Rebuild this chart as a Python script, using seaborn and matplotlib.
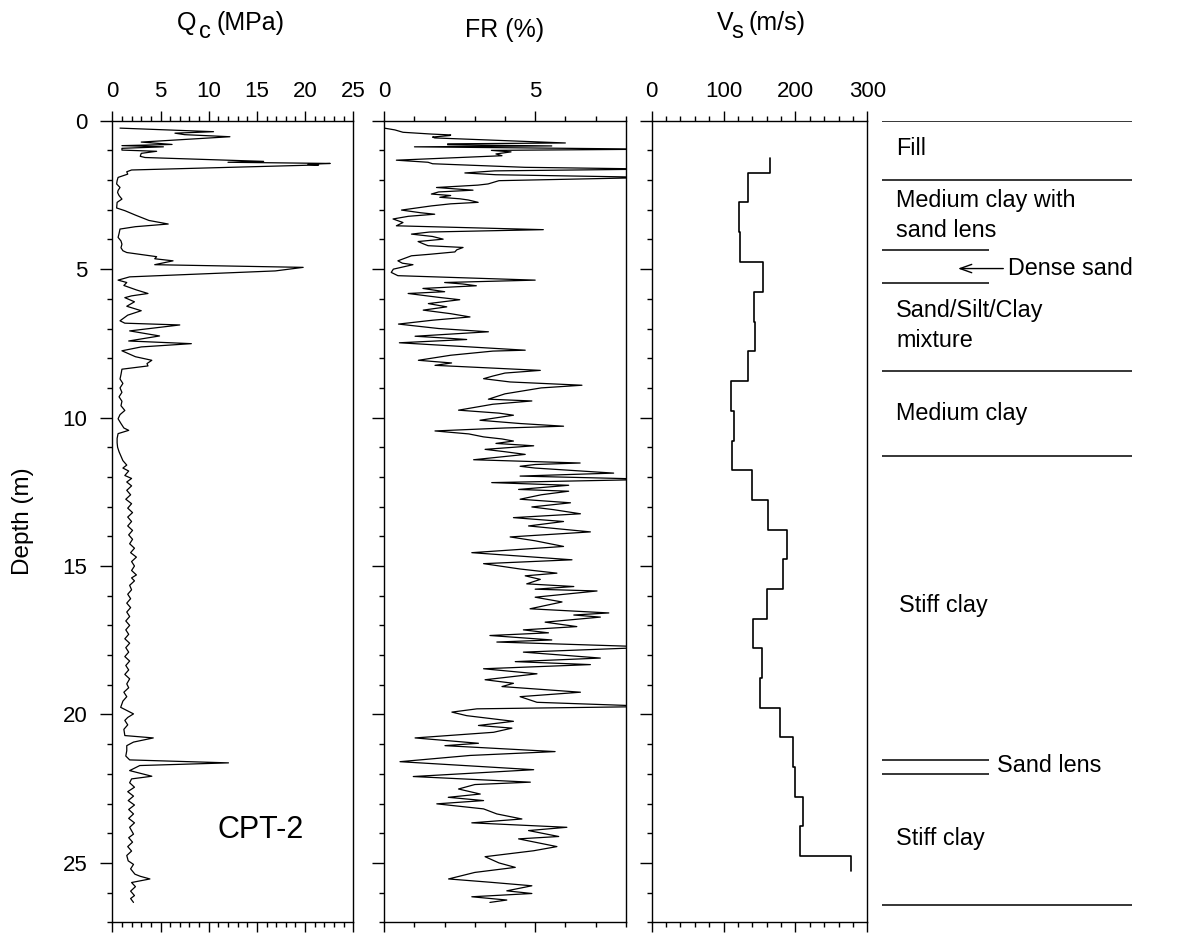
import numpy as np
import pandas as pd
import matplotlib
matplotlib.use("Agg")
import matplotlib.pyplot as plt
import seaborn as sns
from matplotlib.ticker import MultipleLocator, FixedLocator

# ---------------- data ----------------
qc_depth = [0.25, 0.33, 0.37, 0.42, 0.47, 0.54, 0.72, 0.80, 0.84, 0.88, 0.93, 0.99, 1.03, 1.10,
            1.20, 1.24, 1.33, 1.37, 1.40, 1.44, 1.47, 1.49, 1.66, 1.72, 1.80, 1.91, 2.02, 2.13,
            2.25, 2.35, 2.42, 2.52, 2.64, 2.75, 2.94, 3.03, 3.18, 3.31, 3.36, 3.48, 3.57, 3.65,
            3.80, 3.93, 4.05, 4.16, 4.28, 4.38, 4.44, 4.58, 4.65, 4.72, 4.85, 4.94, 5.06, 5.26,
            5.37, 5.45, 5.55, 5.70, 5.82, 5.90, 5.96, 6.10, 6.25, 6.40, 6.55, 6.74, 6.82, 6.88,
            7.08, 7.25, 7.42, 7.51, 7.62, 7.75, 7.95, 8.07, 8.18, 8.26, 8.37, 8.55, 8.70, 8.85,
            9.00, 9.15, 9.30, 9.45, 9.60, 9.76, 9.90, 10.04, 10.20, 10.35, 10.43, 10.54, 10.70,
            10.85, 11.00, 11.15, 11.30, 11.45, 11.60, 11.70, 11.80, 11.95, 12.05, 12.17, 12.30,
            12.45, 12.60, 12.75, 12.90, 13.05, 13.20, 13.35, 13.50, 13.65, 13.80, 13.95, 14.10,
            14.25, 14.40, 14.55, 14.70, 14.85, 15.00, 15.15, 15.30, 15.40, 15.50, 15.65, 15.80,
            15.95, 16.10, 16.25, 16.40, 16.55, 16.70, 16.85, 17.00, 17.15, 17.30, 17.45, 17.60,
            17.75, 17.90, 18.05, 18.20, 18.35, 18.50, 18.65, 18.80, 18.97, 19.10, 19.25, 19.40,
            19.55, 19.76, 19.98, 20.10, 20.20, 20.35, 20.50, 20.71, 20.79, 20.93, 21.05, 21.22,
            21.40, 21.53, 21.63, 21.72, 21.89, 22.08, 22.17, 22.30, 22.45, 22.60, 22.75, 22.90,
            23.05, 23.20, 23.35, 23.50, 23.65, 23.80, 24.03, 24.15, 24.30, 24.45, 24.60, 24.75,
            24.93, 25.05, 25.20, 25.38, 25.45, 25.54, 25.66, 25.80, 25.95, 26.10, 26.20, 26.33]
qc_values = [0.8, 7.4, 10.5, 6.5, 7.5, 12.2, 3.0, 6.2, 1.0, 5.3, 1.0, 1.0, 4.6, 3.0,
             2.9, 3.4, 11.7, 15.7, 12.0, 22.6, 20.3, 21.4, 2.0, 1.5, 1.6, 0.6, 0.5, 0.45,
             0.8, 0.6, 0.55, 0.7, 1.0, 0.5, 0.45, 1.3, 2.4, 3.4, 3.8, 5.8, 2.4, 0.8,
             0.7, 0.6, 0.9, 1.0, 0.9, 1.1, 1.5, 4.6, 4.4, 6.3, 4.4, 19.8, 16.9, 1.8,
             0.6, 1.5, 1.2, 2.5, 3.7, 2.0, 1.3, 2.3, 1.5, 3.0, 1.6, 0.8, 1.3, 7.0,
             1.8, 4.9, 1.7, 8.2, 3.0, 1.0, 2.4, 4.1, 3.6, 3.7, 1.0, 0.9, 0.8, 1.1,
             0.8, 1.0, 0.7, 1.0, 0.9, 1.3, 0.8, 0.6, 0.9, 1.2, 1.7, 0.6, 0.5,
             0.5, 0.55, 0.7, 0.9, 1.1, 1.5, 1.1, 1.7, 1.3, 2.0, 1.5, 2.0,
             1.5, 1.9, 1.4, 2.0, 1.6, 2.1, 1.6, 2.0, 1.6, 2.1, 1.7, 2.1,
             1.8, 2.3, 1.9, 2.5, 2.0, 2.3, 2.0, 2.5, 2.0, 2.3, 1.8, 2.0,
             1.6, 1.9, 1.5, 1.9, 1.5, 1.8, 1.4, 1.8, 1.4, 1.7, 1.3, 1.8,
             1.4, 1.7, 1.3, 1.8, 1.4, 1.7, 1.3, 1.8, 1.5, 1.7, 1.2, 1.5,
             1.1, 0.87, 2.2, 1.6, 1.3, 1.6, 1.2, 1.3, 4.25, 2.2, 1.5, 1.5,
             1.4, 1.8, 12.05, 2.85, 1.8, 4.1, 2.0, 1.8, 2.3, 1.6, 2.2, 1.65,
             2.3, 1.7, 2.2, 1.7, 2.3, 1.8, 2.2, 1.7, 2.1, 1.6, 2.0, 1.5,
             1.65, 2.2, 1.9, 2.35, 2.9, 3.9, 2.0, 2.4, 1.9, 2.3, 1.9, 2.2]

fr_depth = [0.25, 0.31, 0.39, 0.45, 0.48, 0.50, 0.55, 0.58, 0.75, 0.78, 0.81, 0.85, 0.88, 0.96,
            1.00, 1.05, 1.12, 1.18, 1.33, 1.40, 1.45, 1.57, 1.63, 1.69, 1.76, 1.82, 1.91, 2.02,
            2.08, 2.13, 2.17, 2.25, 2.30, 2.34, 2.40, 2.47, 2.52, 2.58, 2.63, 2.67, 2.75, 2.80,
            2.87, 3.01, 3.10, 3.15, 3.22, 3.31, 3.43, 3.54, 3.67, 3.75, 3.82, 3.90, 3.99, 4.07,
            4.15, 4.21, 4.27, 4.35, 4.42, 4.50, 4.55, 4.72, 4.80, 4.85, 5.00, 5.11, 5.22, 5.37,
            5.45, 5.50, 5.56, 5.65, 5.76, 5.82, 5.95, 6.03, 6.16, 6.27, 6.38, 6.50, 6.61, 6.72,
            6.85, 7.00, 7.11, 7.26, 7.32, 7.37, 7.48, 7.60, 7.73, 7.76, 7.90, 8.07, 8.16, 8.24,
            8.41, 8.50, 8.60, 8.69, 8.80, 8.91, 9.00, 9.10, 9.20, 9.38, 9.44, 9.55, 9.75, 9.85,
            9.92, 10.09, 10.20, 10.29, 10.35, 10.45, 10.55, 10.65, 10.72, 10.79, 10.87, 10.95,
            11.07, 11.15, 11.24, 11.42, 11.53, 11.58, 11.64, 11.70, 11.87, 11.97, 12.08, 12.19,
            12.28, 12.42, 12.48, 12.60, 12.75, 12.87, 13.01, 13.10, 13.24, 13.37, 13.50, 13.65,
            13.75, 13.85, 14.02, 14.15, 14.34, 14.55, 14.79, 14.92, 15.10, 15.24, 15.33, 15.45,
            15.60, 15.69, 15.78, 15.84, 16.05, 16.21, 16.44, 16.58, 16.65, 16.72, 16.89, 17.04,
            17.15, 17.25, 17.34, 17.49, 17.56, 17.73, 17.90, 18.10, 18.22, 18.32, 18.46, 18.63,
            18.83, 18.95, 19.06, 19.25, 19.40, 19.59, 19.73, 19.81, 19.92, 20.04, 20.23, 20.37,
            20.46, 20.60, 20.79, 20.97, 21.05, 21.25, 21.38, 21.59, 21.86, 22.09, 22.28, 22.36,
            22.51, 22.68, 22.79, 22.90, 23.01, 23.18, 23.35, 23.52, 23.65, 23.80, 23.91, 24.11,
            24.19, 24.45, 24.59, 24.79, 25.00, 25.15, 25.32, 25.54, 25.65, 25.77, 25.94, 26.03,
            26.14, 26.25, 26.33]
fr_values = [0.0, 0.35, 0.62, 1.56, 2.2, 2.17, 1.6, 1.67, 6.0, 2.1, 2.1, 5.55, 1.0, 9.0,
             3.55, 4.2, 3.7, 3.9, 0.4, 1.45, 1.6, 4.66, 9.0, 3.66, 2.67, 3.7, 9.0, 3.8,
             3.6, 3.44, 3.1, 1.73, 2.4, 2.94, 1.8, 1.56, 2.2, 1.84, 2.5, 2.78, 3.11, 2.2,
             1.56, 0.57, 1.2, 1.67, 0.8, 0.29, 0.62, 0.4, 5.27, 1.5, 0.9, 1.6, 1.95, 1.12,
             1.3, 1.45, 2.61, 2.4, 2.34, 1.5, 0.9, 0.45, 0.6, 0.95, 0.3, 0.23, 0.45, 5.0,
             2.0, 2.6, 3.05, 1.28, 2.0, 0.79, 1.8, 2.5, 1.46, 2.07, 1.29, 2.2, 2.84, 1.6,
             0.47, 1.8, 3.45, 1.02, 2.0, 2.73, 0.5, 2.5, 4.67, 3.6, 2.2, 1.13, 2.23, 1.68,
             5.17, 4.0, 3.6, 3.29, 4.17, 6.55, 5.2, 4.61, 4.0, 3.45, 4.89, 3.6, 2.46, 3.8,
             4.28, 3.17, 4.5, 5.94, 4.0, 1.68, 2.8, 3.29, 3.9, 4.28, 3.7, 4.95,
             3.34, 4.0, 4.67, 2.96, 6.49, 5.0, 4.5, 5.0, 7.6, 4.5, 9.0, 3.56,
             6.11, 4.45, 6.11, 5.2, 4.5, 6.17, 4.89, 5.6, 6.5, 4.28, 5.94, 4.78,
             5.8, 6.83, 4.17, 5.0, 5.94, 2.9, 6.22, 3.29, 4.5, 5.72, 4.67, 5.17,
             4.72, 6.28, 5.0, 7.05, 5.0, 5.89, 4.83, 7.44, 6.28, 7.16, 5.33, 6.38,
             4.61, 5.44, 3.5, 5.55, 3.73, 9.0, 4.61, 7.16, 4.34, 6.83, 3.29, 5.06,
             3.34, 4.28, 3.9, 6.5, 4.5, 5.06, 9.0, 3.07, 2.24, 2.73, 4.28, 3.12,
             4.23, 3.62, 1.02, 3.12, 2.01, 5.66, 2.84, 0.52, 4.95, 0.96, 4.84, 3.0,
             2.46, 3.18, 2.12, 3.29, 1.74, 3.29, 3.73, 4.56, 2.9, 6.05, 4.78, 5.78,
             4.45, 5.72, 4.95, 3.34, 3.8, 4.34, 3.0, 2.13, 3.5, 4.89, 4.06, 4.89,
             2.9, 4.06, 3.5]

vs_bounds = [1.27, 1.75, 2.75, 3.75, 4.77, 5.77, 6.77, 7.77, 8.77, 9.77, 10.78, 11.78, 12.77,
             13.77, 14.76, 15.77, 16.77, 17.77, 18.77, 19.77, 20.77, 21.77, 22.77, 23.77,
             24.78, 25.27]
vs_values = [165, 134, 121, 123, 155, 143, 144, 134, 110, 115, 112, 139, 162, 188, 183, 160,
             141, 154, 151, 178, 196, 199, 210, 206, 278]

layer_full = [0.0, 2.0, 8.42, 11.3, 26.42]
layer_short = [4.35, 5.46, 21.53, 22.0]
layer_names = ["Fill", "Medium clay with\nsand lens", "Dense sand", "Sand/Silt/Clay\nmixture",
               "Medium clay", "Stiff clay", "Sand lens", "Stiff clay"]
layer_label_depth = [0.92, 3.2, 4.98, 6.9, 9.87, 16.33, 21.72, 24.17]

qc_ticks = [0, 5, 10, 15, 20, 25]
fr_ticks = [0, 5]
vs_ticks = [0, 100, 200, 300]
depth_ticks = [0, 5, 10, 15, 20, 25]

# ---------------- style ----------------
sns.set_theme(style="ticks", rc={
    "axes.edgecolor": "black", "xtick.color": "black", "ytick.color": "black",
    "text.color": "black", "axes.labelcolor": "black", "axes.linewidth": 1.0,
})
plt.rcParams["font.family"] = ["Liberation Sans", "DejaVu Sans"]

W, H = 1204, 934
fig = plt.figure(figsize=(W / 100, H / 100), dpi=100)


def px_axes(left, top, right, bottom):
    return fig.add_axes([left / W, 1 - bottom / H, (right - left) / W, (bottom - top) / H])


def ftext(x, y, s, **kw):
    return fig.text(x / W, 1 - y / H, s, **kw)


TOP, BOT = 120.7, 922.3
ax1 = px_axes(112.3, TOP, 353.3, BOT)
ax2 = px_axes(384.3, TOP, 625.7, BOT)
ax3 = px_axes(651.7, TOP, 867.3, BOT)
axa = px_axes(867.3, TOP, 1204, BOT)

TICK_FS = 16

df_qc = pd.DataFrame({"depth": qc_depth, "qc": qc_values})
df_fr = pd.DataFrame({"depth": fr_depth, "fr": fr_values})
vs_x = np.repeat(vs_values, 2)
vs_y = np.column_stack([vs_bounds[:-1], vs_bounds[1:]]).ravel()
df_vs = pd.DataFrame({"depth": vs_y, "vs": vs_x})

sns.lineplot(data=df_qc, x="qc", y="depth", sort=False, estimator=None, orient="y",
             color="black", linewidth=0.9, ax=ax1)
sns.lineplot(data=df_fr, x="fr", y="depth", sort=False, estimator=None, orient="y",
             color="black", linewidth=0.9, ax=ax2)
sns.lineplot(data=df_vs, x="vs", y="depth", sort=False, estimator=None, orient="y",
             color="black", linewidth=1.2, ax=ax3)

setups = [
    (ax1, (0, 25), qc_ticks, 1),
    (ax2, (0, 8), fr_ticks, 1),
    (ax3, (0, 300), vs_ticks, 20),
]
for i, (ax, xlim, majors, minor_step) in enumerate(setups):
    ax.set_xlim(*xlim)
    ax.set_ylim(27, 0)
    ax.xaxis.set_major_locator(FixedLocator(majors))
    ax.xaxis.set_minor_locator(MultipleLocator(minor_step))
    ax.yaxis.set_major_locator(FixedLocator(depth_ticks))
    ax.yaxis.set_minor_locator(MultipleLocator(1))
    ax.xaxis.set_ticks_position("both")
    ax.tick_params(axis="x", which="both", direction="out", top=True, bottom=True,
                   labeltop=True, labelbottom=False, labelsize=TICK_FS, width=1.0)
    ax.tick_params(axis="x", which="major", length=7, pad=6.5)
    ax.tick_params(axis="x", which="minor", length=3.6)
    ax.tick_params(axis="y", which="both", direction="out", left=True, right=False,
                   labelleft=(i == 0), labelsize=TICK_FS, width=1.0)
    ax.tick_params(axis="y", which="major", length=9, pad=9)
    ax.tick_params(axis="y", which="minor", length=3.6)
    ax.set_xlabel("")
    ax.set_ylabel("")
    for s in ax.spines.values():
        s.set_visible(True)
        s.set_color("black")
        s.set_linewidth(1.0)

ax1.set_ylabel("Depth (m)", fontsize=17.5)
ax1.yaxis.label.set_va("center")
ax1.yaxis.set_label_coords((23 - 112.3) / 241.0, 0.5)
ax1.text(15.4, 23.9, "CPT-2", fontsize=22, ha="center", va="center")

# panel titles (large, dropped subscripts as in the original)
TFS = 18
ftext(177, 30, "Q", fontsize=TFS, ha="left", va="baseline")
ftext(199, 38, "c", fontsize=TFS * 0.95, ha="left", va="baseline")
ftext(216, 30, "(MPa)", fontsize=TFS, ha="left", va="baseline")
ftext(505, 37, "FR (%)", fontsize=TFS, ha="center", va="baseline")
ftext(716.5, 30, "V", fontsize=TFS, ha="left", va="baseline")
ftext(731, 38, "s", fontsize=TFS * 0.95, ha="left", va="baseline")
ftext(748, 30, "(m/s)", fontsize=TFS, ha="left", va="baseline")

# layer annotation column
axa.set_xlim(0, W - 867.3)
axa.set_ylim(27, 0)
axa.axis("off")
axa.hlines(layer_full, 15, 264.4, color="black", linewidth=1.1)
axa.hlines(layer_short, 15, 122, color="black", linewidth=1.1)
ANN_FS = 16.8
label_x = [29, 29, 141, 29, 29, 32, 130, 29]
for name, d, x in zip(layer_names, layer_label_depth, label_x):
    axa.text(x, d, name, fontsize=ANN_FS, ha="left", va="center", linespacing=1.4)
axa.annotate("", xy=(90.7, 4.98), xytext=(136, 4.98),
             arrowprops=dict(arrowstyle="->,head_length=0.7,head_width=0.25",
                             color="black", lw=1.0, shrinkA=0, shrinkB=0))

fig.savefig("out.png", dpi=100)
